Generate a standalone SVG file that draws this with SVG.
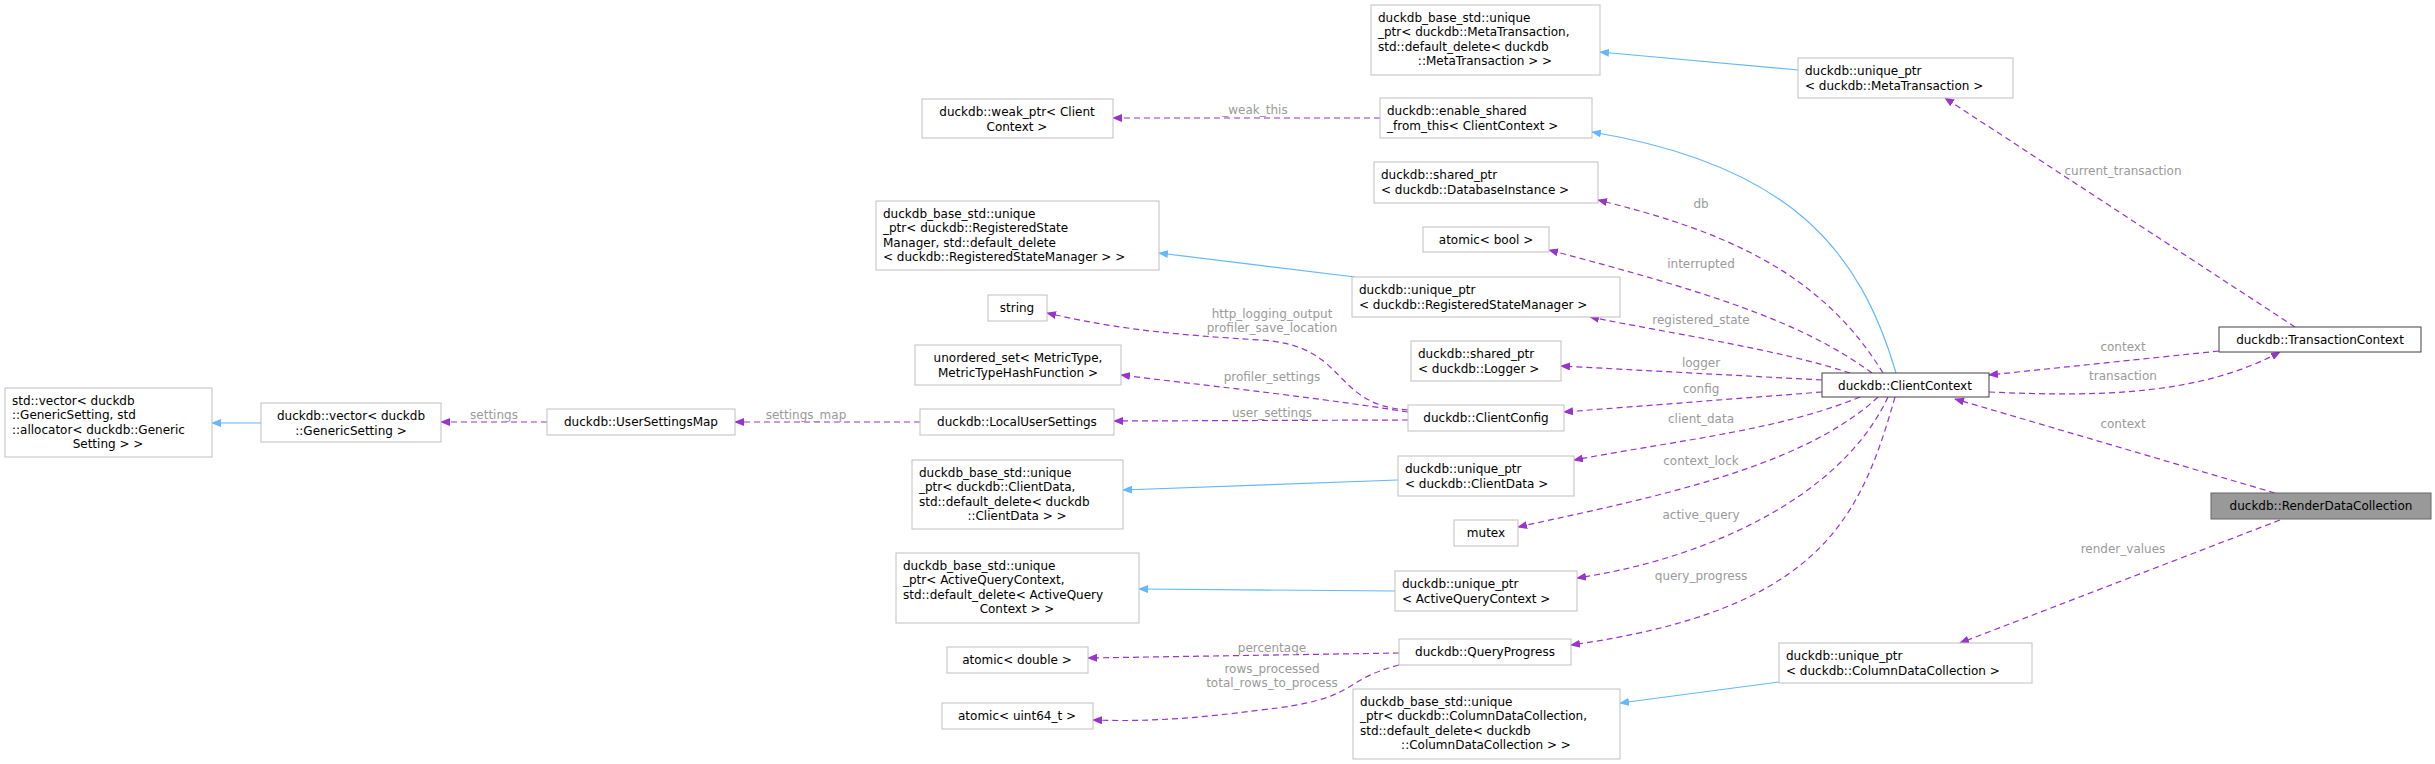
<svg xmlns="http://www.w3.org/2000/svg" width="2435" height="764" viewBox="0 0 2435 764">
<style>
text{font-family:"DejaVu Sans",sans-serif;font-size:12px;fill:#000}
.n rect{fill:#fff;stroke:#bfbfbf;stroke-width:1}
.n.d rect{stroke:#404040}
.n.h rect{fill:#999;stroke:#666}
.c{text-anchor:middle}
.e path{fill:none;stroke-width:1.2}
.p{stroke:#9a32cd;stroke-dasharray:6,4}
.b{stroke:#63b8ff}
.l{fill:#9a9a9a;text-anchor:middle;font-size:12px}
</style>
<defs>
<marker id="ap" markerWidth="10" markerHeight="8" refX="9" refY="4" orient="auto" markerUnits="userSpaceOnUse"><path d="M0,0L10,4L0,8Z" fill="#9a32cd"/></marker>
<marker id="ab" markerWidth="10" markerHeight="8" refX="9" refY="4" orient="auto" markerUnits="userSpaceOnUse"><path d="M0,0L10,4L0,8Z" fill="#63b8ff"/></marker>
</defs>
<rect width="2435" height="764" fill="#fff"/>
<g id="edges" class="e">
<path class="b" marker-end="url(#ab)" d="M1798,70L1600,52"/>
<path class="b" marker-end="url(#ab)" d="M1896,373C1860,250 1790,165 1592,132"/>
<path class="b" marker-end="url(#ab)" d="M1355,277L1159,253"/>
<path class="b" marker-end="url(#ab)" d="M1398,480L1123,490"/>
<path class="b" marker-end="url(#ab)" d="M1395,591L1139,589"/>
<path class="b" marker-end="url(#ab)" d="M1779,682L1620,703"/>
<path class="b" marker-end="url(#ab)" d="M261,423L212,423"/>
<path class="p" marker-end="url(#ap)" d="M1380,118L1113,118"/>
<path class="p" marker-end="url(#ap)" d="M2295,327L1945,98"/>
<path class="p" marker-end="url(#ap)" d="M1883,373C1820,270 1720,230 1598,200"/>
<path class="p" marker-end="url(#ap)" d="M1872,373C1800,320 1700,290 1549,250"/>
<path class="p" marker-end="url(#ap)" d="M1850,373C1780,350 1680,335 1590,317"/>
<path class="p" marker-end="url(#ap)" d="M1822,380L1561,366"/>
<path class="p" marker-end="url(#ap)" d="M1822,392L1564,412"/>
<path class="p" marker-end="url(#ap)" d="M1860,397C1780,430 1680,440 1574,460"/>
<path class="p" marker-end="url(#ap)" d="M1878,397C1800,470 1640,500 1518,527"/>
<path class="p" marker-end="url(#ap)" d="M1888,397C1840,500 1700,560 1577,578"/>
<path class="p" marker-end="url(#ap)" d="M1895,397C1860,520 1820,610 1571,645"/>
<path class="p" marker-end="url(#ap)" d="M2219,351L1989,375"/>
<path class="p" marker-end="url(#ap)" d="M1989,392C2100,397 2200,395 2280,352"/>
<path class="p" marker-end="url(#ap)" d="M2275,493L1955,399"/>
<path class="p" marker-end="url(#ap)" d="M2280,520L1960,643"/>
<path class="p" marker-end="url(#ap)" d="M1408,410C1330,405 1350,345 1260,340C1180,335 1120,330 1047,313"/>
<path class="p" marker-end="url(#ap)" d="M1408,412C1300,395 1200,385 1121,375"/>
<path class="p" marker-end="url(#ap)" d="M1408,420L1114,421"/>
<path class="p" marker-end="url(#ap)" d="M920,422L735,422"/>
<path class="p" marker-end="url(#ap)" d="M547,422L441,422"/>
<path class="p" marker-end="url(#ap)" d="M1399,653L1088,658"/>
<path class="p" marker-end="url(#ap)" d="M1399,665C1340,680 1360,700 1260,710C1200,718 1150,722 1093,720"/>
<text class="l" x="1255" y="114">_weak_this</text>
<text class="l" x="2123" y="175">current_transaction</text>
<text class="l" x="1701" y="208">db</text>
<text class="l" x="1701" y="268">interrupted</text>
<text class="l" x="1701" y="324">registered_state</text>
<text class="l" x="1701" y="367">logger</text>
<text class="l" x="1701" y="393">config</text>
<text class="l" x="1701" y="423">client_data</text>
<text class="l" x="1701" y="465">context_lock</text>
<text class="l" x="1701" y="519">active_query</text>
<text class="l" x="1701" y="580">query_progress</text>
<text class="l" x="2123" y="351">context</text>
<text class="l" x="2123" y="380">transaction</text>
<text class="l" x="2123" y="428">context</text>
<text class="l" x="2123" y="553">render_values</text>
<text class="l" x="1272" y="318">http_logging_output</text>
<text class="l" x="1272" y="332">profiler_save_location</text>
<text class="l" x="1272" y="381">profiler_settings</text>
<text class="l" x="1272" y="417">user_settings</text>
<text class="l" x="806" y="419">settings_map</text>
<text class="l" x="494" y="419">settings</text>
<text class="l" x="1272" y="652">percentage</text>
<text class="l" x="1272" y="673">rows_processed</text>
<text class="l" x="1272" y="687">total_rows_to_process</text>
</g>
<g id="n_metabase" class="n"><rect x="1371" y="5" width="229" height="70"/><text x="1378" y="22">duckdb_base_std::unique</text><text x="1378" y="36">_ptr&lt; duckdb::MetaTransaction,</text><text x="1378" y="51">std::default_delete&lt; duckdb</text><text class="c" x="1485" y="65">::MetaTransaction &gt; &gt;</text></g>
<g id="n_metaptr" class="n"><rect x="1798" y="58" width="215" height="40"/><text x="1805" y="75">duckdb::unique_ptr</text><text x="1805" y="90">&lt; duckdb::MetaTransaction &gt;</text></g>
<g id="n_weak" class="n"><rect x="922" y="99" width="191" height="39"/><text class="c" x="1017" y="116">duckdb::weak_ptr&lt; Client</text><text class="c" x="1017" y="131">Context &gt;</text></g>
<g id="n_enable" class="n"><rect x="1380" y="98" width="212" height="40"/><text x="1387" y="115">duckdb::enable_shared</text><text x="1387" y="130">_from_this&lt; ClientContext &gt;</text></g>
<g id="n_dbi" class="n"><rect x="1374" y="162" width="224" height="41"/><text x="1381" y="179">duckdb::shared_ptr</text><text x="1381" y="194">&lt; duckdb::DatabaseInstance &gt;</text></g>
<g id="n_rsmbase" class="n"><rect x="876" y="201" width="283" height="69"/><text x="883" y="218">duckdb_base_std::unique</text><text x="883" y="232">_ptr&lt; duckdb::RegisteredState</text><text x="883" y="247">Manager, std::default_delete</text><text x="883" y="261">&lt; duckdb::RegisteredStateManager &gt; &gt;</text></g>
<g id="n_abool" class="n"><rect x="1423" y="227" width="126" height="25"/><text class="c" x="1486" y="244">atomic&lt; bool &gt;</text></g>
<g id="n_rsm" class="n"><rect x="1352" y="277" width="268" height="40"/><text x="1359" y="294">duckdb::unique_ptr</text><text x="1359" y="309">&lt; duckdb::RegisteredStateManager &gt;</text></g>
<g id="n_string" class="n"><rect x="988" y="295" width="59" height="26"/><text class="c" x="1017" y="312">string</text></g>
<g id="n_logger" class="n"><rect x="1411" y="341" width="150" height="40"/><text x="1418" y="358">duckdb::shared_ptr</text><text x="1418" y="373">&lt; duckdb::Logger &gt;</text></g>
<g id="n_uset" class="n"><rect x="915" y="345" width="206" height="40"/><text class="c" x="1018" y="362">unordered_set&lt; MetricType,</text><text class="c" x="1018" y="377">MetricTypeHashFunction &gt;</text></g>
<g id="n_cc" class="n d"><rect x="1822" y="373" width="167" height="24"/><text class="c" x="1905" y="390">duckdb::ClientContext</text></g>
<g id="n_tc" class="n d"><rect x="2219" y="327" width="202" height="25"/><text class="c" x="2320" y="344">duckdb::TransactionContext</text></g>
<g id="n_rdc" class="n h"><rect x="2211" y="493" width="220" height="26"/><text class="c" x="2321" y="510">duckdb::RenderDataCollection</text></g>
<g id="n_stdvec" class="n"><rect x="5" y="388" width="207" height="69"/><text x="12" y="405">std::vector&lt; duckdb</text><text x="12" y="419">::GenericSetting, std</text><text x="12" y="434">::allocator&lt; duckdb::Generic</text><text class="c" x="108" y="448">Setting &gt; &gt;</text></g>
<g id="n_dvec" class="n"><rect x="261" y="403" width="180" height="39"/><text class="c" x="351" y="420">duckdb::vector&lt; duckdb</text><text class="c" x="351" y="435">::GenericSetting &gt;</text></g>
<g id="n_usm" class="n"><rect x="547" y="409" width="188" height="26"/><text class="c" x="641" y="426">duckdb::UserSettingsMap</text></g>
<g id="n_lus" class="n"><rect x="920" y="409" width="194" height="26"/><text class="c" x="1017" y="426">duckdb::LocalUserSettings</text></g>
<g id="n_config" class="n"><rect x="1408" y="405" width="156" height="26"/><text class="c" x="1486" y="422">duckdb::ClientConfig</text></g>
<g id="n_cdbase" class="n"><rect x="912" y="460" width="211" height="69"/><text x="919" y="477">duckdb_base_std::unique</text><text x="919" y="491">_ptr&lt; duckdb::ClientData,</text><text x="919" y="506">std::default_delete&lt; duckdb</text><text class="c" x="1017" y="520">::ClientData &gt; &gt;</text></g>
<g id="n_cd" class="n"><rect x="1398" y="456" width="176" height="40"/><text x="1405" y="473">duckdb::unique_ptr</text><text x="1405" y="488">&lt; duckdb::ClientData &gt;</text></g>
<g id="n_mutex" class="n"><rect x="1454" y="520" width="64" height="26"/><text class="c" x="1486" y="537">mutex</text></g>
<g id="n_aqbase" class="n"><rect x="896" y="553" width="243" height="70"/><text x="903" y="570">duckdb_base_std::unique</text><text x="903" y="584">_ptr&lt; ActiveQueryContext,</text><text x="903" y="599">std::default_delete&lt; ActiveQuery</text><text class="c" x="1017" y="613">Context &gt; &gt;</text></g>
<g id="n_aq" class="n"><rect x="1395" y="571" width="182" height="40"/><text x="1402" y="588">duckdb::unique_ptr</text><text x="1402" y="603">&lt; ActiveQueryContext &gt;</text></g>
<g id="n_qp" class="n"><rect x="1399" y="639" width="172" height="26"/><text class="c" x="1485" y="656">duckdb::QueryProgress</text></g>
<g id="n_adouble" class="n"><rect x="947" y="647" width="141" height="26"/><text class="c" x="1017" y="664">atomic&lt; double &gt;</text></g>
<g id="n_auint" class="n"><rect x="942" y="703" width="151" height="26"/><text class="c" x="1017" y="720">atomic&lt; uint64_t &gt;</text></g>
<g id="n_cdcbase" class="n"><rect x="1353" y="689" width="267" height="70"/><text x="1360" y="706">duckdb_base_std::unique</text><text x="1360" y="720">_ptr&lt; duckdb::ColumnDataCollection,</text><text x="1360" y="735">std::default_delete&lt; duckdb</text><text class="c" x="1486" y="749">::ColumnDataCollection &gt; &gt;</text></g>
<g id="n_cdc" class="n"><rect x="1779" y="643" width="253" height="40"/><text x="1786" y="660">duckdb::unique_ptr</text><text x="1786" y="675">&lt; duckdb::ColumnDataCollection &gt;</text></g>
</svg>
